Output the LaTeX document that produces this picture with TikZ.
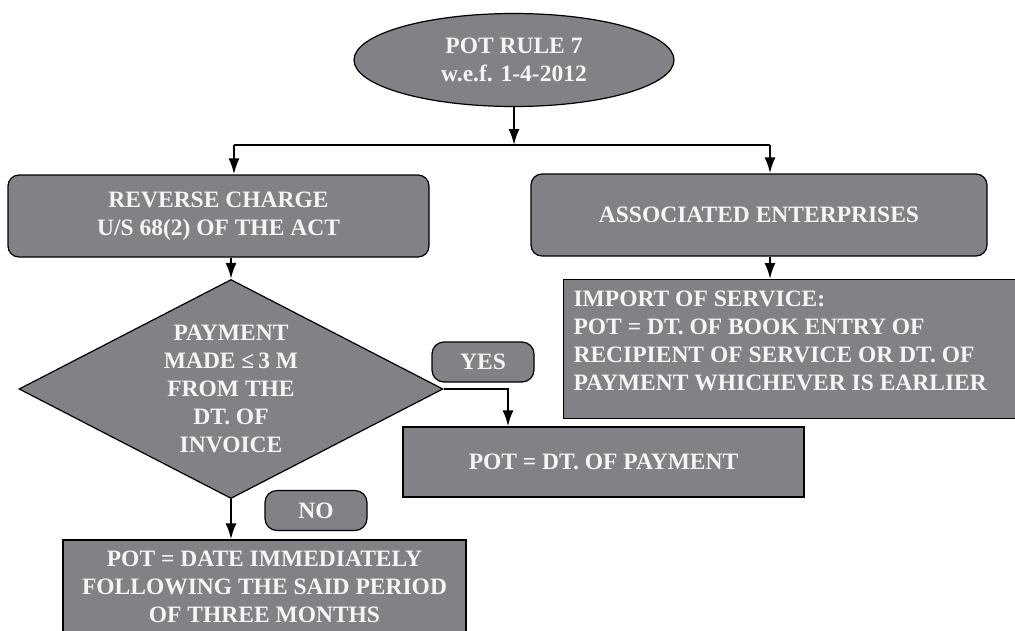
\documentclass[tikz,border=0pt]{standalone}
\usepackage{fontspec}
\setmainfont{Liberation Serif}
\usetikzlibrary{shapes.geometric,arrows.meta}
\definecolor{potgray}{RGB}{128,130,133}
\definecolor{pottext}{RGB}{245,245,245}

\begin{document}
\begin{tikzpicture}[x=1pt,y=-1pt,
        base/.style={draw=black, line width=1.2pt, fill=potgray, text=pottext,
            font=\fontsize{23.5}{28}\selectfont\bfseries, align=center, inner sep=0pt},
        ruleell/.style={base, ellipse, minimum width=320pt, minimum height=93pt},
        chargebox/.style={base, rounded corners=11pt, minimum height=82pt},
        decnode/.style={base, diamond, aspect=1.94, minimum width=424pt, minimum height=219pt},
        tagbox/.style={base, rounded corners=12pt, minimum width=102pt, minimum height=40pt},
        potbox/.style={base},
        arr/.style={line width=2.2pt, -{Latex[length=16pt,width=11pt]}}]
        \useasboundingbox (0,0) rectangle (1015,630);
        \clip (0,0) rectangle (1015,630);
        \node[ruleell] (rule) at (514,60) {POT RULE 7\\w.e.f. 1-4-2012};
        \coordinate (barL) at (234,145);
        \coordinate (barR) at (770,145);
        \node[chargebox, minimum width=421pt] (rc) at (218.5,216) {REVERSE CHARGE\\U/S 68(2) OF THE ACT};
        \node[chargebox, minimum width=456pt] (ae) at (759,215) {ASSOCIATED ENTERPRISES};
        \draw[arr] (rule.south) -- (rule.south |- barL);
        \draw[line width=2.2pt] (barL) -- (barR);
        \draw[arr] (barL) -- (barL |- rc.north);
        \draw[arr] (barR) -- (barR |- ae.north);
        % reverse charge branch
        \node[decnode] (pay) at (231,389) {PAYMENT\\MADE ≤\,3 M\\FROM THE\\DT. OF\\INVOICE};
        \draw[arr] (rc.south -| pay.north) -- (pay.north);
        \node[tagbox] (yes) at (483,362) {YES};
        \node[potbox, minimum width=401pt, minimum height=70pt] (paydt) at (603.5,462) {POT = DT. OF PAYMENT};
        \coordinate (yesdrop) at (508,389);
        \draw[arr] (pay.east) -- (yesdrop) -- (yesdrop |- paydt.north);
        \node[tagbox] (no) at (316,510.5) {NO};
        \node[potbox, minimum width=403pt, minimum height=94pt] (period) at (264.5,587)
            {POT = DATE IMMEDIATELY\\FOLLOWING THE SAID PERIOD\\OF THREE MONTHS};
        \draw[arr] (pay.south) -- (pay.south |- period.north);
        % associated enterprises branch
        \node[potbox, anchor=north west, align=left, inner xsep=10pt, inner ysep=11pt] (imp) at (563,279)
            {\parbox[c][117pt][t]{437pt}{\raggedright IMPORT OF SERVICE:\\POT = DT. OF BOOK ENTRY OF\\RECIPIENT OF SERVICE OR DT. OF\\PAYMENT WHICHEVER IS EARLIER}};
        \draw[arr] (ae.south -| barR) -- (barR |- imp.north);
\end{tikzpicture}
\end{document}
